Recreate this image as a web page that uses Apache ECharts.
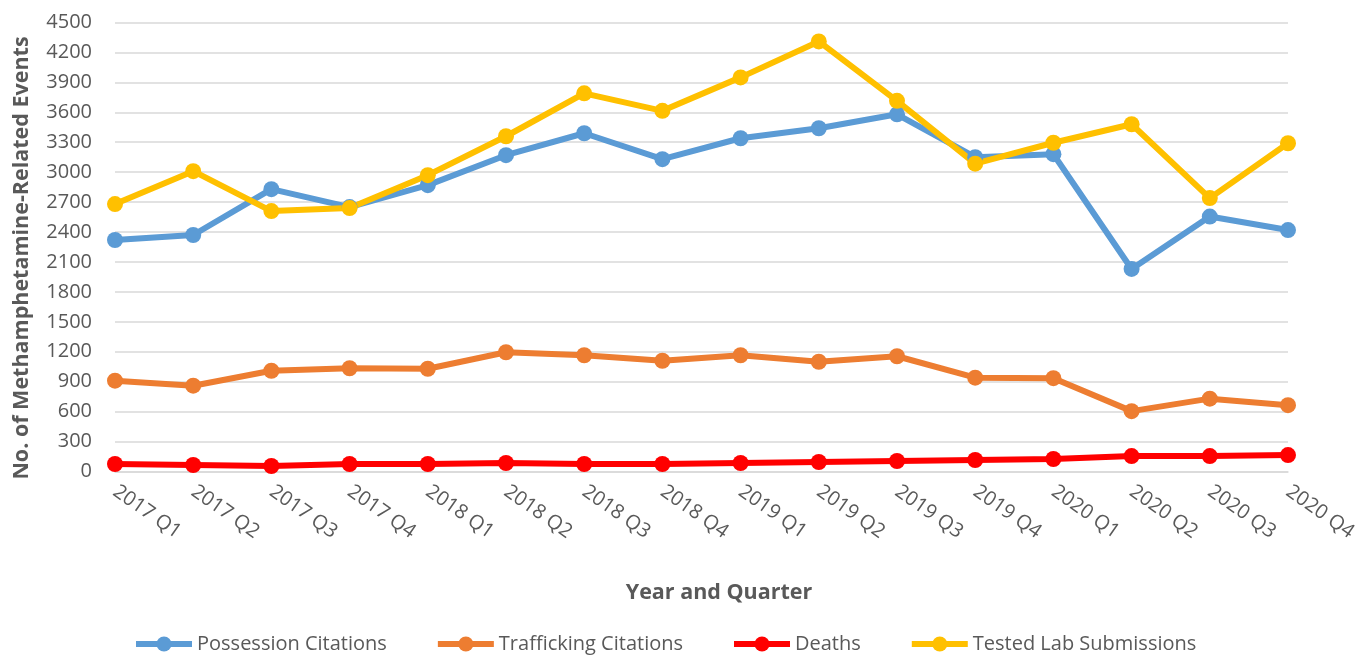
<!DOCTYPE html>
<html>
<head>
<meta charset="utf-8">
<script src="https://cdn.jsdelivr.net/npm/echarts@6/dist/echarts.min.js"></script>
<style>
  html, body { margin: 0; padding: 0; background: #fff; }
  #chart { width: 1359px; height: 656px; }
</style>
</head>
<body>
<div id="chart"></div>
<script>
// quarters on the x axis
var quarters = [
  '2017 Q1', '2017 Q2', '2017 Q3', '2017 Q4',
  '2018 Q1', '2018 Q2', '2018 Q3', '2018 Q4',
  '2019 Q1', '2019 Q2', '2019 Q3', '2019 Q4',
  '2020 Q1', '2020 Q2', '2020 Q3', '2020 Q4'
]
var possession = [2320, 2370, 2830, 2650, 2870, 3170, 3390, 3130, 3340, 3440, 3580, 3150, 3180, 2030, 2555, 2420]
var trafficking = [910, 860, 1010, 1035, 1030, 1195, 1165, 1110, 1165, 1100, 1155, 940, 935, 605, 730, 665]
var deaths = [75, 65, 55, 75, 75, 85, 75, 75, 85, 95, 105, 115, 125, 155, 155, 165]
var labSubmissions = [2680, 3010, 2610, 2640, 2970, 3360, 3790, 3615, 3950, 4310, 3715, 3085, 3295, 3480, 2740, 3290]

var font = 'Open Sans, Liberation Sans, sans-serif'
var grey = '#595959'

function makeSeries (name, data, color) {
  return {
    name: name,
    type: 'line',
    data: data,
    symbol: 'circle',
    symbolSize: 16,
    lineStyle: { width: 6, color: color },
    itemStyle: { color: color },
    emphasis: { disabled: true }
  }
}

var chart = echarts.init(document.getElementById('chart'))
chart.setOption({
  animation: false,
  textStyle: { fontFamily: font },
  grid: { left: 115, right: 71, top: 22.5, bottom: 184.5, outerBoundsMode: 'none', containLabel: false },
  legend: {
    left: 128,
    top: 629,
    itemWidth: 56,
    itemHeight: 19,
    itemGap: 48,
    lineStyle: { width: 6 },
    textStyle: { fontSize: 20, color: grey, fontFamily: font },
    data: ['Possession Citations', 'Trafficking Citations', 'Deaths', 'Tested Lab Submissions']
  },
  graphic: [{
    type: 'text',
    x: 719,
    y: 593,
    style: {
      text: 'Year and Quarter',
      font: 'bold 21.5px ' + font,
      fill: grey,
      textAlign: 'center',
      textVerticalAlign: 'middle'
    }
  }],
  xAxis: {
    type: 'category',
    boundaryGap: false,
    data: quarters,
    axisLine: { lineStyle: { color: '#d9d9d9', width: 1.5 } },
    axisTick: { show: false },
    axisLabel: { rotate: -35, fontSize: 20, color: grey, margin: 18 }
  },
  yAxis: {
    type: 'value',
    min: 0,
    max: 4500,
    interval: 300,
    name: 'No. of Methamphetamine-Related Events',
    nameLocation: 'middle',
    nameGap: 82,
    nameTextStyle: { fontSize: 21.5, fontWeight: 'bold', color: grey, padding: [0, 22, 0, 0] },
    axisLine: { show: false },
    axisTick: { show: false },
    axisLabel: { fontSize: 20, color: grey, margin: 23, formatter: function (v) { return String(v) } },
    splitLine: { lineStyle: { color: '#d9d9d9', width: 1.5 } }
  },
  series: [
    makeSeries('Possession Citations', possession, '#5B9BD5'),
    makeSeries('Trafficking Citations', trafficking, '#ED7D31'),
    makeSeries('Deaths', deaths, '#FF0000'),
    makeSeries('Tested Lab Submissions', labSubmissions, '#FFC000')
  ]
})
</script>
</body>
</html>
